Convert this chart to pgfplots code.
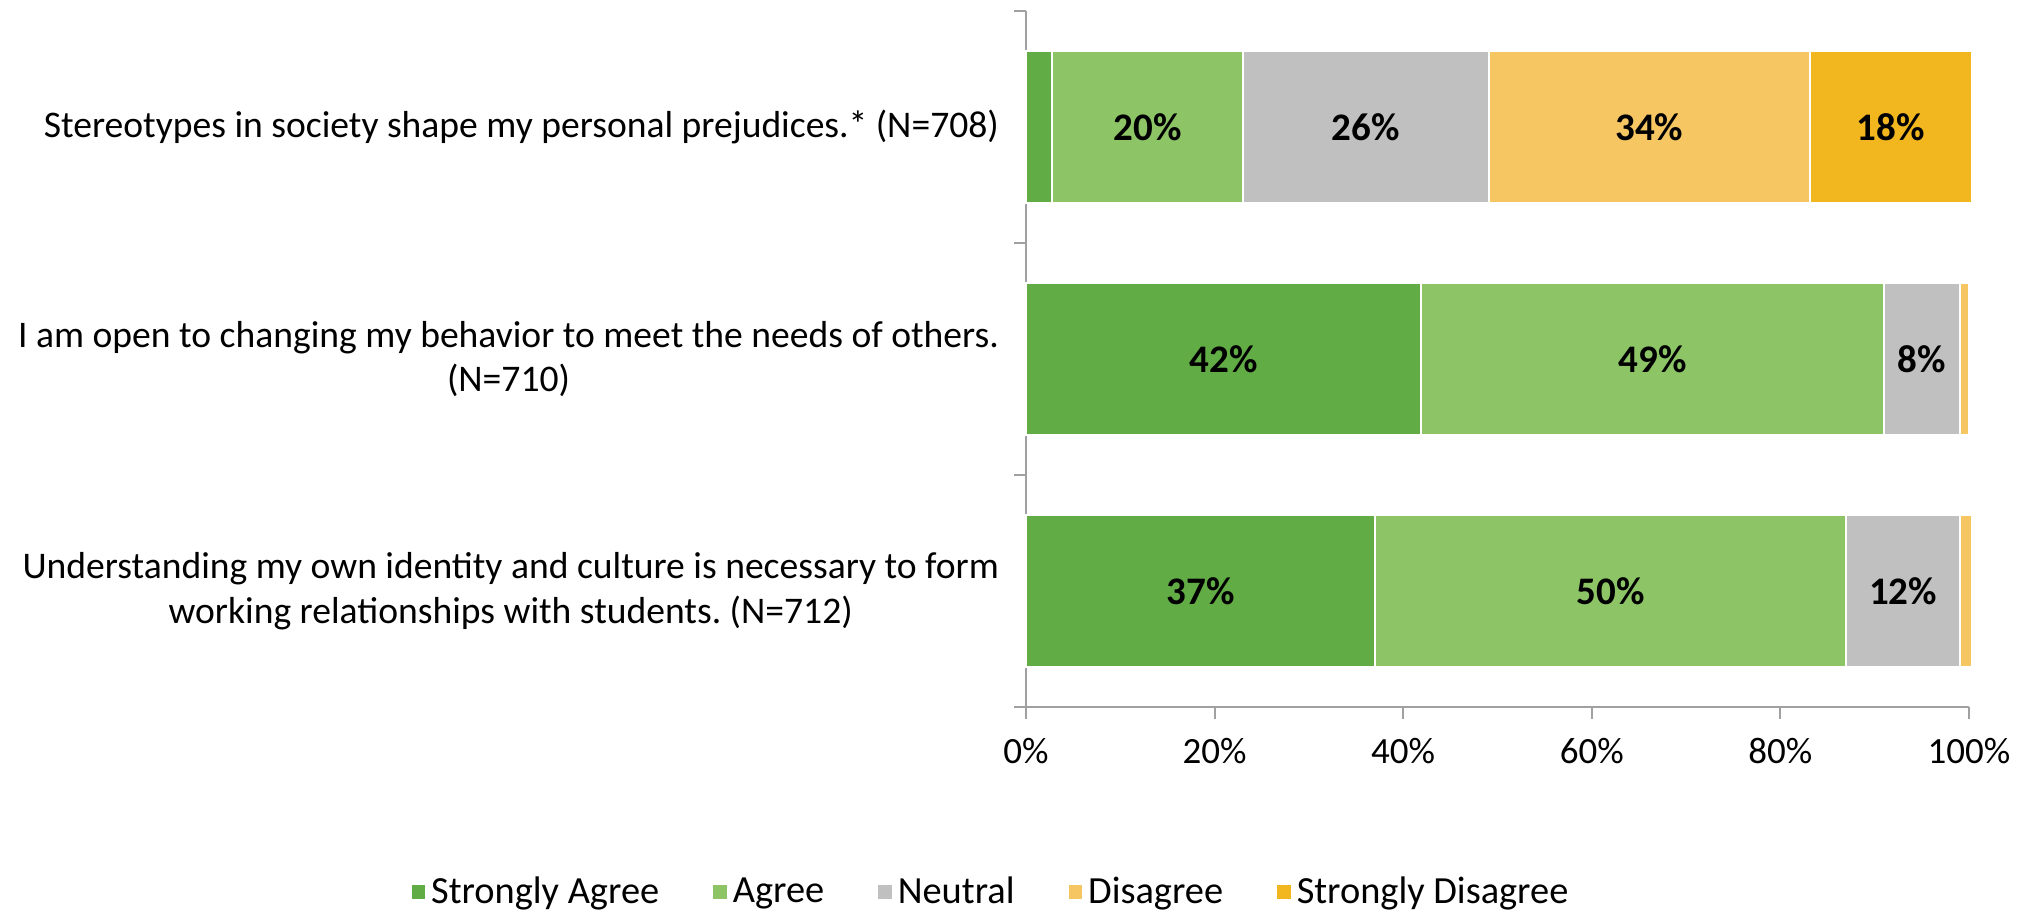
\documentclass[border=0pt]{standalone}
\usepackage{pgfplots}
\pgfplotsset{compat=1.18}
\usepackage{fontspec}
\setmainfont{Carlito}
\frenchspacing
\definecolor{sa}{HTML}{62AC46}
\definecolor{ag}{HTML}{8CC466}
\definecolor{ne}{HTML}{C0C0C0}
\definecolor{di}{HTML}{F6C663}
\definecolor{sd}{HTML}{F2B71E}
\definecolor{axgray}{HTML}{A0A0A0}
\begin{document}
\begin{tikzpicture}
\useasboundingbox (-513pt,-102.5pt) rectangle (501pt,353.5pt);
\begin{axis}[
  at={(0,0)}, anchor=south west,
  scale only axis, width=471.5pt, height=348pt,
  xbar stacked, bar width=76pt,
  xmin=0, xmax=100,
  ymin=-0.5, ymax=2.5,
  clip=false,
  axis lines*=left,
  axis line style={-, axgray, line width=1pt},
  tick align=outside,
  major tick length=6pt,
  tick style={axgray, line width=1pt},
  ytick={-0.5,0.5,1.5,2.5},
  yticklabels={},
  extra y ticks={0,1,2},
  extra y tick labels={{Understanding my own identity and culture is necessary to form\\working relationships with students. (N=712)},
    {I am open to changing my behavior to meet the needs of others.\\(N=710)},
    {Stereotypes in society shape my personal prejudices.* (N=708)}},
  extra y tick style={major tick length=0pt, yticklabel style={align=center, font=\fontsize{18.8}{22.2}\selectfont, xshift=-10pt}},
  xtick={0,20,40,60,80,100},
  xticklabel={\pgfmathprintnumber{\tick}\%},
  /pgf/number format/assume math mode=true,
  xticklabel style={font=\fontsize{18.5}{22}\selectfont, yshift=-6pt},
  point meta=explicit symbolic,
  nodes near coords,
  every node near coord/.append style={anchor=center, font=\bfseries\fontsize{19.5}{23}\selectfont, text=black},
  legend style={at={(-0.0371,-0.2658)}, anchor=center, legend columns=-1, draw=none, font=\fontsize{19.2}{23}\selectfont,
    /tikz/every even column/.append style={column sep=24pt}},
  legend image code/.code={\fill[#1] (0pt,-3.9pt) rectangle (7.8pt,3.9pt);},
]
\addplot[fill=sa, draw=white, line width=1pt] coordinates {(37.0,0) [37\%] (41.9,1) [42\%] (2.8,2) []};
\addplot[fill=ag, draw=white, line width=1pt] coordinates {(50.0,0) [50\%] (49.1,1) [49\%] (20.2,2) [20\%]};
\addplot[fill=ne, draw=white, line width=1pt] coordinates {(12.0,0) [12\%] (8.0,1) [8\%] (26.1,2) [26\%]};
\addplot[fill=di, draw=white, line width=1pt] coordinates {(1.3,0) [] (1.0,1) [] (34.0,2) [34\%]};
\addplot[fill=sd, draw=white, line width=1pt] coordinates {(0,0) [] (0,1) [] (17.2,2) [18\%]};
\legend{Strongly Agree, Agree, Neutral, Disagree, Strongly Disagree}
\end{axis}
\end{tikzpicture}
\end{document}
